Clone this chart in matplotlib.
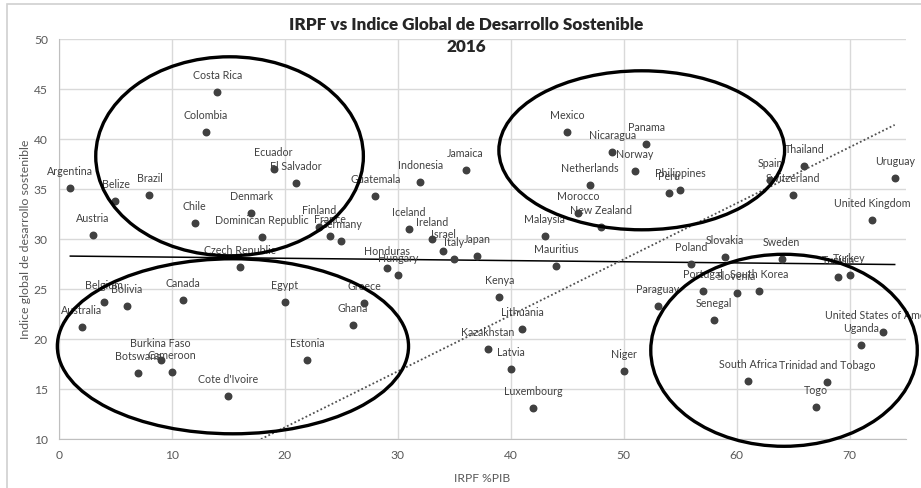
import numpy as np
import matplotlib
matplotlib.use("Agg")
import matplotlib.pyplot as plt
from matplotlib.patches import Ellipse, Rectangle

plt.rcParams['font.family'] = ['Lato', 'DejaVu Sans']

# datos (x = IRPF %PIB, y = indice global)
paises = ["Argentina", "Australia", "Austria", "Belgium", "Belize", "Bolivia",
          "Botswana", "Brazil", "Burkina Faso", "Cameroon", "Canada", "Chile",
          "Colombia", "Costa Rica", "Cote d'Ivoire", "Czech Republic", "Denmark",
          "Dominican Republic", "Ecuador", "Egypt", "El Salvador", "Estonia",
          "Finland", "France", "Germany", "Ghana", "Greece", "Guatemala",
          "Honduras", "Hungary", "Iceland", "Indonesia", "Ireland", "Israel",
          "Italy", "Jamaica", "Japan", "Kazakhstan", "Kenya", "Latvia",
          "Lithuania", "Luxembourg", "Malaysia", "Mauritius", "Mexico",
          "Morocco", "Netherlands", "New Zealand", "Nicaragua", "Niger",
          "Norway", "Panama", "Paraguay", "Peru", "Philippines", "Poland",
          "Portugal", "Senegal", "Slovakia", "Slovenia", "South Africa",
          "South Korea", "Spain", "Sweden", "Switzerland", "Thailand", "Togo",
          "Trinidad and Tobago", "Tunisia", "Turkey", "Uganda",
          "United Kingdom", "United States of America", "Uruguay"]
irpf = [1, 2, 3, 4, 5, 6, 7, 8, 9, 10, 11, 12, 13, 14, 15, 16, 17, 18, 19, 20,
        21, 22, 23, 24, 25, 26, 27, 28, 29, 30, 31, 32, 33, 34, 35, 36, 37, 38,
        39, 40, 41, 42, 43, 44, 45, 46, 47, 48, 49, 50, 51, 52, 53, 54, 55, 56,
        57, 58, 59, 60, 61, 62, 63, 64, 65, 66, 67, 68, 69, 70, 71, 72, 73, 74]
indice = [35.1, 21.2, 30.4, 23.7, 33.8, 23.3, 16.6, 34.4, 17.9, 16.7, 23.9, 31.6,
          40.7, 44.7, 14.3, 27.2, 32.6, 30.2, 37.0, 23.7, 35.6, 17.9, 31.2, 30.3,
          29.8, 21.4, 23.6, 34.3, 27.1, 26.4, 31.0, 35.7, 30.0, 28.8, 28.0, 36.9,
          28.3, 19.0, 24.2, 17.0, 21.0, 13.1, 30.3, 27.3, 40.7, 32.6, 35.4, 31.2,
          38.7, 16.8, 36.8, 39.5, 23.3, 34.6, 34.9, 27.5, 24.8, 21.9, 28.2, 24.6,
          15.8, 24.8, 35.9, 28.0, 34.4, 37.3, 13.2, 15.7, 26.2, 26.4, 19.4, 31.9,
          20.7, 36.1]

# linea punteada de referencia
ref_pendiente = 0.56
ref_ordenada = 0.0

# elipses dibujadas a mano: (centro x, centro y, ancho, alto)
elipses = [(15.1, 38.3, 23.7, 19.9),
           (51.6, 38.9, 25.3, 15.9),
           (15.4, 19.3, 31.1, 17.5),
           (64.2, 18.9, 23.6, 19.2)]

gris = '#404040'

fig = plt.figure(figsize=(9.21, 4.88), dpi=100)
ax = fig.add_axes([0.0641, 0.0998, 0.9196, 0.8197])

# marco del area del grafico
fig.patches.append(Rectangle((7 / 921, -0.05), 1.1, 1.05 - 4 / 488,
                             transform=fig.transFigure, fill=False,
                             edgecolor='#d0d0d0', lw=1.2))

ax.scatter(irpf, indice, s=22, color=gris, zorder=3)

# tendencia lineal
coef = np.polyfit(irpf, indice, 1)
xt = np.array([min(irpf), max(irpf)])
ax.plot(xt, np.polyval(coef, xt), color='black', lw=1.1, zorder=2)

xr = np.linspace(0, max(irpf), 200)
ax.plot(xr, ref_pendiente * xr + ref_ordenada, color='#505050', lw=1.3,
        ls=(0, (1, 1.3)), zorder=2)

for nombre, x, y in zip(paises, irpf, indice):
    ax.annotate(nombre, (x, y), xytext=(0, 11.8), textcoords='offset points',
                ha='center', va='center', fontsize=7.7, color=gris, zorder=4)

for cx, cy, w, h in elipses:
    ax.add_patch(Ellipse((cx, cy), w, h, fill=False, edgecolor='black',
                         lw=2.4, clip_on=False, zorder=5))

ax.set_xlim(0, 75)
ax.set_ylim(10, 50)
ax.set_xticks(range(0, 80, 10))
ax.set_yticks(range(10, 55, 5))
ax.grid(True, color='#d9d9d9', lw=1)
ax.set_axisbelow(True)
for s in ['top', 'right']:
    ax.spines[s].set_visible(False)
for s in ['left', 'bottom']:
    ax.spines[s].set_color('#bfbfbf')
ax.tick_params(length=0, colors='#595959', labelsize=8.7, pad=8)

ax.set_xlabel('IRPF %PIB', fontsize=8.7, color='#595959', labelpad=8)
ax.set_ylabel('Indice global de desarrollo sostenible', fontsize=8.9,
              color='#595959', labelpad=2)

fig.text(466 / 921, 1 - 25 / 488, 'IRPF vs Indice Global de Desarrollo Sostenible',
         ha='center', va='center', fontsize=12.3, fontweight='heavy', color='#262626')
fig.text(466 / 921, 1 - 47 / 488, '2016', ha='center', va='center',
         fontsize=12.3, fontweight='heavy', color='#262626')

fig.savefig('out.png', dpi=100)
